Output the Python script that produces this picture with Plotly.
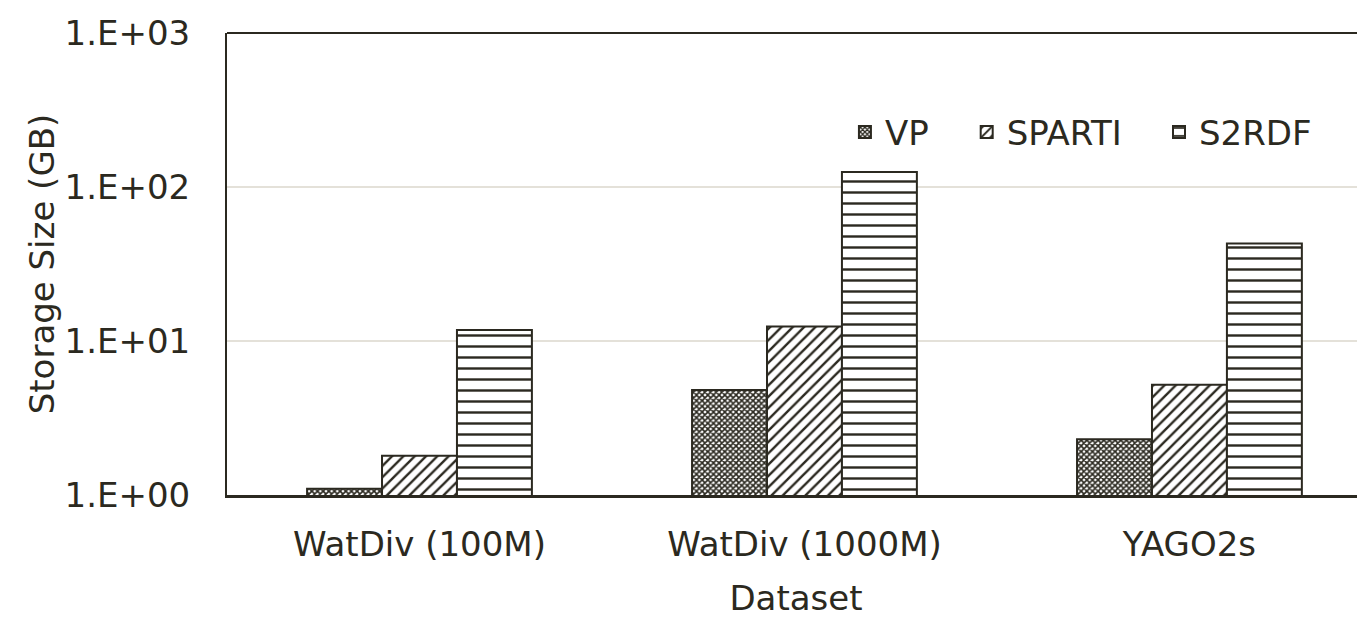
import plotly.graph_objects as go

categories = ["WatDiv (100M)", "WatDiv (1000M)", "YAGO2s"]
vp = [1.1, 4.8, 2.3]
sparti = [1.8, 12.4, 5.2]
s2rdf = [11.8, 125.0, 43.0]
tick_vals = [1, 10, 100, 1000]
tick_text = ["1.E+00", "1.E+01", "1.E+02", "1.E+03"]

DARK = "#2b2920"
FONT = "Century Gothic, DejaVu Sans, sans-serif"

fig = go.Figure()
series = [("VP", vp, "x", 4, 0.65, "legend"),
          ("SPARTI", sparti, "/", 8, 0.3, "legend2"),
          ("S2RDF", s2rdf, "-", 11, 0.22, "legend3")]
for name, vals, shape, size, sol, lg in series:
    fig.add_trace(go.Bar(
        x=categories, y=vals, name=name, legend=lg,
        marker=dict(color="white", line=dict(color=DARK, width=2),
                    pattern=dict(shape=shape, fgcolor=DARK, bgcolor="white", fgopacity=1,
                                 size=size, solidity=sol, fillmode="replace")),
    ))

leg_common = dict(y=0.785, yanchor="middle", xanchor="left", font=dict(size=34),
                  bgcolor="rgba(0,0,0,0)", itemwidth=30)
fig.update_layout(
    width=1357, height=610,
    margin=dict(l=219, r=0, t=25, b=123, autoexpand=False),
    paper_bgcolor="white", plot_bgcolor="white",
    barmode="group", bargap=0.416, bargroupgap=0,
    font=dict(family=FONT, size=34, color=DARK),
    legend=dict(x=0.543, **leg_common),
    legend2=dict(x=0.650, **leg_common),
    legend3=dict(x=0.819, **leg_common),
    showlegend=True,
)
fig.update_xaxes(
    range=[-0.5, 2.456], showline=True, linecolor=DARK, linewidth=3, mirror=False,
    ticks="outside", ticklen=17, tickcolor="rgba(0,0,0,0)", tickfont=dict(size=34),
    automargin=False,
    title=dict(text="Dataset", font=dict(size=34), standoff=29),
)
fig.update_yaxes(
    type="log", range=[0, 3], tickvals=tick_vals, ticktext=tick_text,
    showline=True, linecolor=DARK, linewidth=2,
    showgrid=True, gridcolor="#e4e1d9", gridwidth=2,
    ticks="outside", ticklen=28, tickcolor="rgba(0,0,0,0)", tickfont=dict(size=34),
    automargin=False,
    title=dict(text="Storage Size (GB)", font=dict(size=34), standoff=0),
)
fig.add_shape(type="line", xref="paper", yref="paper", x0=0, x1=1, y0=1, y1=1,
              line=dict(color=DARK, width=2))

fig.write_html("out.html")
